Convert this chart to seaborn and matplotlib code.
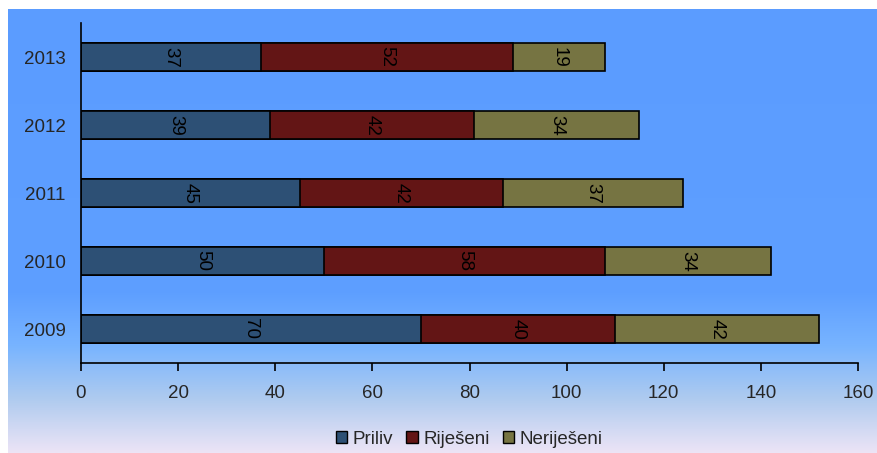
import numpy as np
import pandas as pd
import matplotlib
matplotlib.use("Agg")
import matplotlib.pyplot as plt
from matplotlib.colors import LinearSegmentedColormap
from matplotlib.patches import Patch
import seaborn as sns

years = ["2013", "2012", "2011", "2010", "2009"]
priliv = [37, 39, 45, 50, 70]
rijeseni = [52, 42, 42, 58, 40]
nerijeseni = [19, 34, 37, 34, 42]

series = ["Priliv", "Riješeni", "Neriješeni"]
colors = ["#2D5075", "#631515", "#767442"]

sns.set_theme(style="white")
plt.rcParams["font.family"] = ["Liberation Sans", "DejaVu Sans"]

df = pd.DataFrame({"year": years, "Priliv": priliv,
                   "Riješeni": rijeseni, "Neriješeni": nerijeseni})
# cumulative sums for stacking
df["c1"] = df["Priliv"]
df["c2"] = df["c1"] + df["Riješeni"]
df["c3"] = df["c2"] + df["Neriješeni"]

W, H = 877, 453
fs = 13.5
fig = plt.figure(figsize=(W / 100, H / 100), dpi=100)
fig.patch.set_facecolor("white")

# gradient background panel
bg = fig.add_axes([8 / W, 0, (W - 8) / W, (H - 9) / H], zorder=-1)
grad_cmap = LinearSegmentedColormap.from_list(
    "bg", [(0.0, "#5B9CFF"), (0.64, "#5E9FFF"), (0.76, "#78B4FF"),
           (0.88, "#AFCBEF"), (1.0, "#ECE4F6")])
grad = np.linspace(0, 1, 256).reshape(-1, 1)
bg.imshow(grad, aspect="auto", cmap=grad_cmap, extent=[0, 1, 1, 0])
bg.set_axis_off()

ax = fig.add_axes([81 / W, 1 - 363 / H, (858 - 81) / W, (363 - 23) / H])
ax.set_facecolor("none")

for col, c in zip(["c3", "c2", "c1"], colors[::-1]):
    sns.barplot(data=df, x=col, y="year", order=years, color=c, width=0.41,
                edgecolor="black", linewidth=1.2, saturation=1, ax=ax)

# segment labels
for i in range(len(years)):
    start = 0
    for v in [priliv[i], rijeseni[i], nerijeseni[i]]:
        ax.text(start + v / 2, i, str(v), rotation=270, ha="center",
                va="center", fontsize=fs, color="black")
        start += v

ax.set_xlim(0, 160)
ax.set_ylim(4.5, -0.5)
ax.set_xticks(range(0, 161, 20))
ax.set_xlabel("")
ax.set_ylabel("")
for s in ["top", "right"]:
    ax.spines[s].set_visible(False)
for s in ["left", "bottom"]:
    ax.spines[s].set_color("black")
    ax.spines[s].set_linewidth(1.2)
ax.tick_params(axis="x", length=6, width=1.2, color="black", pad=10,
               labelsize=fs, bottom=True, direction="out")
ax.tick_params(axis="y", length=0, pad=11, labelsize=fs)

handles = [Patch(facecolor=c, edgecolor="black", label=s)
           for c, s in zip(colors, series)]
fig.legend(handles=handles, loc="center", ncol=3, frameon=False,
           bbox_to_anchor=(0.535, 1 - 439 / H), fontsize=fs,
           handlelength=0.6, handleheight=0.6, handletextpad=0.3,
           columnspacing=0.7)

fig.savefig("out.png", dpi=100)
